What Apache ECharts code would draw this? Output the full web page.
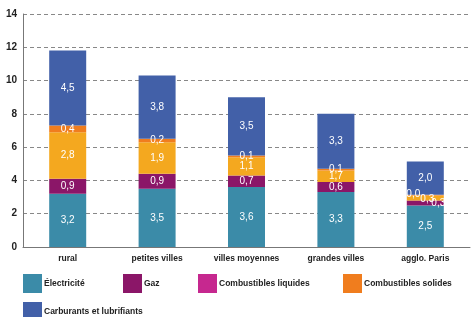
<!DOCTYPE html>
<html>
<head>
<meta charset="utf-8">
<script src="https://cdn.jsdelivr.net/npm/echarts@6/dist/echarts.min.js"></script>
<style>
  html, body { margin: 0; padding: 0; background: #fff; }
  #chart { width: 473px; height: 317px; }
</style>
</head>
<body>
<div id="chart"></div>
<script>
// data
var categories = ['rural', 'petites villes', 'villes moyennes', 'grandes villes', 'agglo. Paris']
var electricite = [3.2, 3.5, 3.6, 3.3, 2.5]
var gaz = [0.9, 0.9, 0.7, 0.6, 0.3]
var liquides = [2.8, 1.9, 1.1, 0.7, 0.3]
var solides = [0.4, 0.2, 0.1, 0.1, 0.04]
var carburants = [4.5, 3.8, 3.5, 3.3, 2.0]
// printed labels (the grandes villes one does not match its bar)
var liquidesLabels = ['2,8', '1,9', '1,1', '1,7', '0,3']
var yTicks = [0, 2, 4, 6, 8, 10, 12, 14]

// colors
var colElec = '#3b8ba8'
var colGaz = '#8b1668'
var colLiq = '#f4a81f'
var colLiqLegend = '#c6288f'
var colSol = '#f07d1e'
var colCarb = '#4260a8'

var font = '"Liberation Sans", Arial, sans-serif'

function fmt(v) {
  return v.toFixed(1).replace('.', ',')
}

// label nudges for the crowded Paris bar
function withOffsets(values, offsets) {
  return values.map(function (v, i) {
    if (offsets && offsets[i]) {
      return { value: v, label: { offset: offsets[i] } }
    }
    return v
  })
}

function barSeries(name, values, color, texts, offsets) {
  return {
    name: name,
    type: 'bar',
    stack: 'total',
    barWidth: 37,
    data: withOffsets(values, offsets),
    itemStyle: { color: color },
    label: {
      show: true,
      position: 'inside',
      color: '#fff',
      fontSize: 10,
      fontFamily: font,
      formatter: function (p) {
        return texts ? texts[p.dataIndex] : fmt(p.value)
      }
    },
    emphasis: { disabled: true }
  }
}

var legendItems = [
  { name: 'Électricité', left: 23, top: 274 },
  { name: 'Gaz', left: 123, top: 274 },
  { name: 'Combustibles liquides', left: 198, top: 274, color: colLiqLegend },
  { name: 'Combustibles solides', left: 343, top: 274 },
  { name: 'Carburants et lubrifiants', left: 23, top: 302 }
]

var legends = legendItems.map(function (it) {
  var d = { name: it.name }
  if (it.color) d.itemStyle = { color: it.color }
  return {
    data: [d],
    left: it.left,
    top: it.top,
    padding: 0,
    icon: 'rect',
    itemWidth: 19,
    itemHeight: 19,
    selectedMode: false,
    textStyle: {
      fontSize: 8.5,
      fontWeight: 'bold',
      color: '#222',
      fontFamily: font,
      padding: [0, 0, 0, -3]
    }
  }
})

var option = {
  animation: false,
  backgroundColor: '#fff',
  grid: { left: 23, right: 3, top: 14, bottom: 70 },
  legend: legends,
  xAxis: {
    type: 'category',
    data: categories,
    axisLine: { lineStyle: { color: '#777' } },
    axisTick: { show: false },
    axisLabel: {
      interval: 0,
      margin: 7,
      fontSize: 8.5,
      fontWeight: 'bold',
      color: '#222',
      fontFamily: font
    }
  },
  yAxis: {
    type: 'value',
    min: yTicks[0],
    max: yTicks[yTicks.length - 1],
    interval: 2,
    axisLine: { show: true, lineStyle: { color: '#777' } },
    axisTick: { show: false },
    axisLabel: {
      margin: 6,
      fontSize: 10,
      fontWeight: 'bold',
      color: '#222',
      fontFamily: font
    },
    splitLine: { lineStyle: { color: '#888', type: [4, 3] } }
  },
  series: [
    barSeries('Électricité', electricite, colElec),
    barSeries('Gaz', gaz, colGaz, null, [null, null, null, null, [13, 0]]),
    barSeries('Combustibles liquides', liquides, colLiq, liquidesLabels, [null, null, null, null, [2, 1]]),
    barSeries('Combustibles solides', solides, colSol, null, [null, null, null, null, [-12, -1]]),
    barSeries('Carburants et lubrifiants', carburants, colCarb)
  ]
}

var myChart = echarts.init(document.getElementById('chart'))
myChart.setOption(option)
</script>
</body>
</html>
